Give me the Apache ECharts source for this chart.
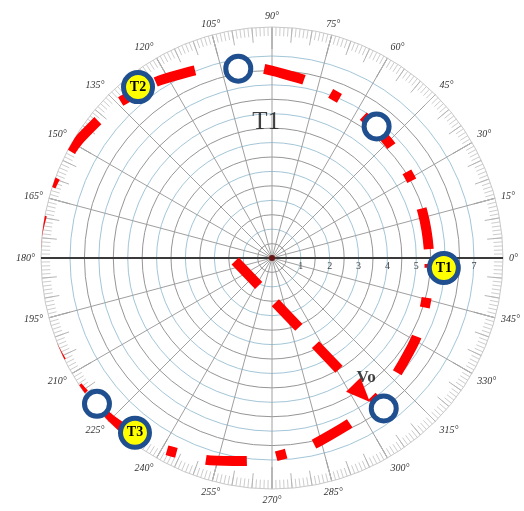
<!DOCTYPE html>
<html>
<head>
<meta charset="utf-8">
<script src="https://cdn.jsdelivr.net/npm/echarts@6/dist/echarts.min.js"></script>
<style>
  html, body { margin: 0; padding: 0; background: #fff; }
  #chart { width: 524px; height: 511px; }
</style>
</head>
<body>
<div id="chart"></div>
<script>
// Polar graph paper: grid radius 0..7, degree ring out to 8
const gridMax = 7;
const ringMax = 8;
const angleLabelStep = 15;

// Trajectory (red dashed loop), polar samples [radius, degrees]
const pathRadius = [5.46, 5.45, 5.56, 5.77, 6.05, 6.39, 6.75, 7.10, 7.43, 7.71, 7.94, 8.10, 8.18,
                    8.19, 8.12, 7.97, 7.76, 7.48, 7.16, 6.81, 6.45, 6.11, 5.81, 5.59, 5.46];
const pathAngle  = [357.8, 16.6, 35.1, 53.1, 70.2, 86.4, 101.6, 116.1, 130.0, 143.3, 156.2, 168.9, 181.5,
                    194.0, 206.5, 219.1, 232.1, 245.3, 259.1, 273.4, 288.5, 304.5, 321.5, 339.3, 357.8];

// Open position markers
const openRadius = [6.66, 5.82, 8.10, 7.89, 6.49];
const openAngle  = [100.1, 51.5, 181.0, 219.8, 306.6];

// Labelled positions
const namedLabels = ['T1', 'T2', 'T3'];
const namedRadius = [5.96, 7.52, 7.69];
const namedAngle  = [356.7, 128.1, 231.9];

// Velocity vector V0 (shaft start/end, head)
const arrowRadius = [1.28, 5.28];
const arrowAngle  = [184.6, 303.0];
const headRadius = 5.62;
const headAngle = 303.5;

// Text annotations
const noteText   = ['T1', 'Vo'];
const noteRadius = [4.71, 5.28];
const noteAngle  = [92.5, 308.1];
const noteSize   = [25, 17];
const noteWeight = ['normal', 'bold'];

// Horizontal 0°–180° diameter
const diameterRadius = [8.1, 8.1];
const diameterAngle  = [180, 0];

const zip = (r, a) => r.map((v, i) => [v, a[i]]);
const serif = 'Liberation Serif';
const center = [272, 258];

const chart = echarts.init(document.getElementById('chart'), null, { renderer: 'canvas' });

chart.setOption({
  animation: false,
  backgroundColor: '#fff',
  polar: [
    { center: center, radius: 202 },
    { center: center, radius: 231 },
    { center: center, radius: 231 }
  ],
  angleAxis: [
    {
      polarIndex: 0, type: 'value', min: 0, max: 360, interval: angleLabelStep,
      startAngle: 0, clockwise: false,
      axisLine: { show: false }, axisTick: { show: false },
      axisLabel: { show: false }, splitLine: { show: false }
    },
    {
      polarIndex: 1, type: 'value', min: 0, max: 360, interval: angleLabelStep,
      startAngle: 0, clockwise: false,
      axisLine: { show: true, lineStyle: { color: '#c9c9c9', width: 1 } },
      axisTick: { show: true, inside: true, length: 22, lineStyle: { color: '#9a9a9a' } },
      minorTick: { show: true, splitNumber: 15, length: 9, lineStyle: { color: '#cdcdcd' } },
      splitLine: { show: true, lineStyle: { color: '#a0a0a0', width: 1 } },
      axisLabel: {
        margin: 6, fontSize: 10, fontFamily: serif, fontStyle: 'italic', color: '#333',
        formatter: v => (v >= 360 ? '' : v + '°')
      }
    },
    {
      polarIndex: 2, type: 'value', min: 0, max: 360, interval: 5,
      startAngle: 0, clockwise: false,
      axisLine: { show: false },
      axisTick: { show: true, inside: true, length: 15, lineStyle: { color: '#b5b5b5' } },
      axisLabel: { show: false }, splitLine: { show: false }
    }
  ],
  radiusAxis: [
    {
      polarIndex: 0, type: 'value', min: 0, max: gridMax, interval: 0.5,
      axisLine: { show: false }, axisTick: { show: false },
      axisLabel: {
        fontSize: 10, fontFamily: serif, color: '#444', margin: -13,
        formatter: v => (v > 0 && v % 1 === 0 ? String(v) : '')
      },
      splitLine: { show: true, lineStyle: { color: ['#a3c6d8', '#969696'], width: 1 } }
    },
    { polarIndex: 1, type: 'value', min: 0, max: ringMax, show: false },
    { polarIndex: 2, type: 'value', min: 0, max: ringMax, show: false }
  ],
  series: [
    {
      type: 'line', coordinateSystem: 'polar', polarIndex: 1, z: 3,
      data: zip(diameterRadius, diameterAngle), showSymbol: false, silent: true,
      lineStyle: { color: '#3a3a3a', width: 2 }
    },
    {
      type: 'line', coordinateSystem: 'polar', polarIndex: 1, z: 4,
      data: zip(arrowRadius, arrowAngle), showSymbol: false, silent: true,
      lineStyle: { color: '#ff0000', width: 10, type: [34, 24], cap: 'butt' }
    },
    {
      type: 'line', coordinateSystem: 'polar', polarIndex: 1, z: 4,
      data: zip(pathRadius, pathAngle), smooth: true, showSymbol: false, silent: true,
      lineStyle: { color: '#ff0000', width: 10, type: [41, 30, 10, 30], dashOffset: -15, cap: 'butt' }
    },
    {
      // arrowhead: triangle turned clockwise to follow the shaft
      type: 'scatter', coordinateSystem: 'polar', polarIndex: 1, z: 5,
      data: [[headRadius, headAngle]], symbol: 'triangle', symbolSize: [20, 24],
      symbolRotate: -136, itemStyle: { color: '#ff0000', opacity: 1 }
    },
    {
      type: 'scatter', coordinateSystem: 'polar', polarIndex: 1, z: 5,
      data: [[0, 0]], symbolSize: 6, itemStyle: { color: '#6b1414', opacity: 1 }
    },
    {
      type: 'scatter', coordinateSystem: 'polar', polarIndex: 1, z: 6,
      data: zip(openRadius, openAngle), symbolSize: 25,
      itemStyle: { color: '#ffffff', borderColor: '#1f4f8f', borderWidth: 5, opacity: 1 }
    },
    {
      type: 'scatter', coordinateSystem: 'polar', polarIndex: 1, z: 6,
      data: namedLabels.map((n, i) => ({ name: n, value: [namedRadius[i], namedAngle[i]] })),
      symbolSize: 29,
      itemStyle: { color: '#ffff00', borderColor: '#1f4f8f', borderWidth: 5, opacity: 1 },
      label: {
        show: true, position: 'inside', formatter: '{b}',
        fontFamily: serif, fontWeight: 'bold', fontSize: 14, color: '#000'
      }
    },
    {
      type: 'scatter', coordinateSystem: 'polar', polarIndex: 1, z: 7,
      data: noteText.map((t, i) => ({
        name: t, value: [noteRadius[i], noteAngle[i]],
        label: { fontSize: noteSize[i], fontWeight: noteWeight[i] }
      })),
      symbolSize: 1, itemStyle: { color: 'rgba(0,0,0,0)' },
      label: {
        show: true, position: 'inside', formatter: '{b}',
        fontFamily: serif, color: '#111'
      }
    }
  ]
});
</script>
</body>
</html>
